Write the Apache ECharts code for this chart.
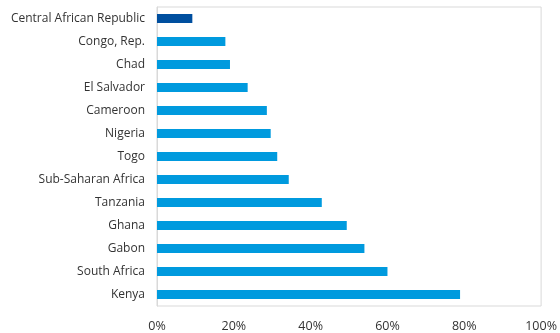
<!DOCTYPE html>
<html>
<head>
<meta charset="utf-8">
<script src="https://cdn.jsdelivr.net/npm/echarts@6/dist/echarts.min.js"></script>
<style>
  html, body { margin: 0; padding: 0; background: #fff; }
  #chart { width: 560px; height: 333px; }
</style>
</head>
<body>
<div id="chart"></div>
<script>
// Countries, listed top to bottom
const countries = [
  'Central African Republic', 'Congo, Rep.', 'Chad', 'El Salvador', 'Cameroon',
  'Nigeria', 'Togo', 'Sub-Saharan Africa', 'Tanzania', 'Ghana', 'Gabon',
  'South Africa', 'Kenya'
];
// Share, in percent
const shares = [9.2, 17.8, 19.0, 23.6, 28.6, 29.6, 31.3, 34.3, 42.9, 49.4, 54.0, 60.0, 78.9];
// Highlighted country
const highlighted = 'Central African Republic';
// X-axis ticks
const xTicks = [0, 20, 40, 60, 80, 100];

const baseColor = '#009ade';
const highlightColor = '#004f9f';

const chart = echarts.init(document.getElementById('chart'));
chart.setOption({
  animation: false,
  textStyle: { fontFamily: 'Open Sans, Noto Sans, sans-serif' },
  grid: {
    left: 157, right: 17, top: 7, bottom: 27,
    show: true, borderColor: '#d9d9d9', borderWidth: 1
  },
  xAxis: {
    type: 'value',
    min: xTicks[0],
    max: xTicks[xTicks.length - 1],
    interval: 20,
    axisLine: { show: false },
    axisTick: { show: false },
    splitLine: { show: false },
    axisLabel: {
      color: '#333333', fontSize: 12.5, margin: 14,
      formatter: v => v + '%'
    }
  },
  yAxis: {
    type: 'category',
    inverse: true,
    data: countries,
    axisLine: { show: true, lineStyle: { color: '#d9d9d9' } },
    axisTick: { show: false },
    axisLabel: { color: '#333333', fontSize: 12, margin: 12 }
  },
  series: [{
    type: 'bar',
    barWidth: 9,
    data: shares.map((v, i) => ({
      value: v,
      itemStyle: { color: countries[i] === highlighted ? highlightColor : baseColor }
    }))
  }]
});
</script>
</body>
</html>
